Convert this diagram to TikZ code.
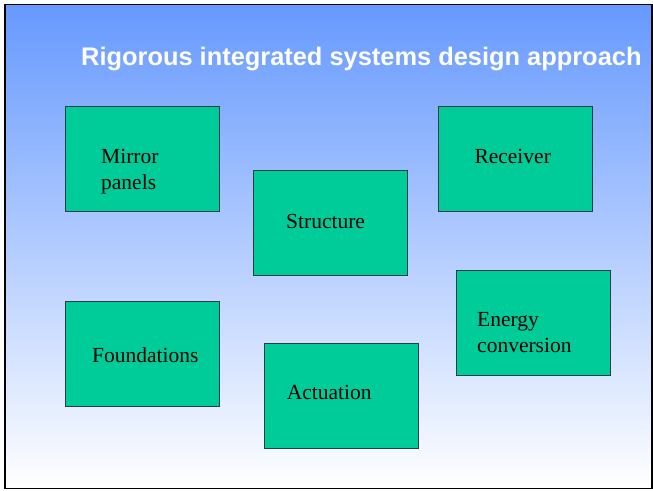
\documentclass[tikz,border=0pt]{standalone}
\usepackage{fontspec}
\setmainfont{Liberation Serif}
\newfontfamily\headfont{Liberation Sans}
\usepackage{tikz}
\usetikzlibrary{positioning}
\definecolor{Sky}{HTML}{6699FF}
\definecolor{Mint}{HTML}{00CC99}
\definecolor{Edge}{HTML}{2E3A44}
\tikzset{
  slide/.style={draw=black,line width=1.6pt,top color=Sky,bottom color=white},
  part/.style={rectangle,draw=Edge,line width=.8pt,fill=Mint,minimum width=154pt,minimum height=105pt,inner sep=0pt},
  partname/.style={anchor=base west,inner sep=0pt,align=left,font=\fontsize{21.5}{26}\selectfont},
  heading/.style={anchor=base west,inner sep=0pt,text=white,font=\headfont\bfseries\fontsize{25.4}{30}\selectfont}
}

\begin{document}
\begin{tikzpicture}[x=1pt,y=-1pt]
        \useasboundingbox (0,0) rectangle (653,490);
        \draw[slide] (5,4.5) rectangle (652,488.5);
        \node[heading] (title) at (81,65) {Rigorous integrated systems design approach};
        % the six parts of the design (two-line names sit on their last line)
        \node[part] (mirror) at (142,158.5) {}; \node[part] (struct) at (330,223) {};
        \node[part] (recv) at (515,158.5) {}; \node[part] (found) at (142,354) {};
        \node[part] (act) at (341,395.5) {}; \node[part] (energy) at (533,322.5) {};
        \node[partname] (mirror-t) at (101,189.3) {Mirror\\panels};
        \node[partname] (struct-t) at (286,228) {Structure};
        \node[partname] (recv-t) at (474.3,163) {Receiver};
        \node[partname] (found-t) at (92,362.3) {Foundations};
        \node[partname] (act-t) at (286.7,399.3) {Actuation};
        \node[partname] (energy-t) at (477,352.7) {Energy\\conversion};
      \end{tikzpicture}
\end{document}
